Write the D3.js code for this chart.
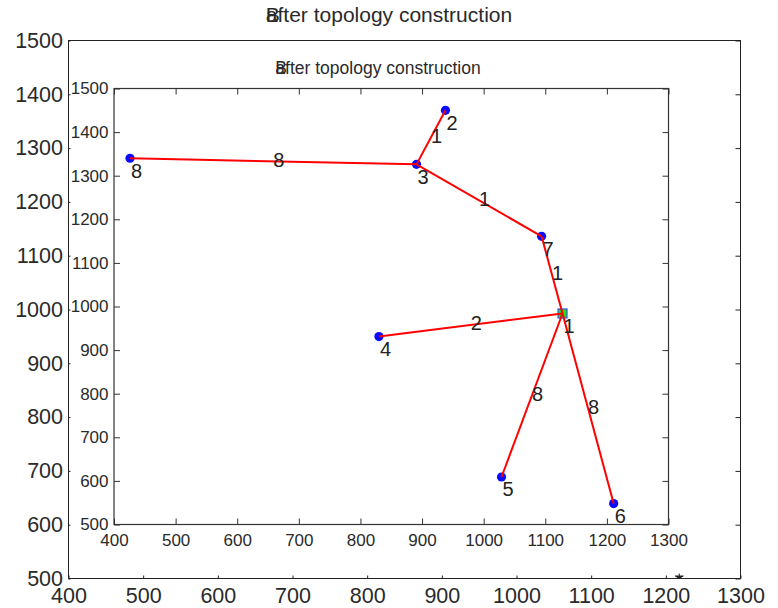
<!DOCTYPE html>
<html>
<head>
<meta charset="utf-8">
<script src="https://cdn.jsdelivr.net/npm/d3@7"></script>
<style>
  html, body { margin: 0; padding: 0; background: #fff; }
  svg { display: block; font-family: "Liberation Sans", Arial, Helvetica, sans-serif; }
</style>
</head>
<body>
<svg id="chart" width="778" height="608"></svg>
<script>
// Network nodes (position in field units) and the links between them
const nodeIds = [1, 2, 3, 4, 5, 6, 7, 8];
const nodeX = [1128, 938, 891, 830, 1029, 1211, 1094, 426];
const nodeY = [984, 1450, 1326, 931, 609, 548, 1161, 1340];
const sinkId = 1;

const edgeFrom = [1, 7, 3, 3, 1, 1, 1];
const edgeTo = [7, 3, 2, 8, 4, 5, 6];
const edgeWeights = [1, 1, 1, 8, 2, 8, 8];

const xTicks = [400, 500, 600, 700, 800, 900, 1000, 1100, 1200, 1300];
const yTicks = [500, 600, 700, 800, 900, 1000, 1100, 1200, 1300, 1400, 1500];
const titleText = "after topology construction";
const titlePrefix = "B";
const strayMark = { x: 1218, y: 500 };

const svg = d3.select("#chart");
const plain = d3.format("d");

// Outer (background) axes
const ox = d3.scaleLinear().domain([400, 1300]).range([68.5, 740.5]);
const oy = d3.scaleLinear().domain([500, 1500]).range([578.5, 40.5]);
// Inner (plot) axes
const ix = d3.scaleLinear().domain([400, 1300]).range([114, 668.5]);
const iy = d3.scaleLinear().domain([500, 1500]).range([524.5, 88.5]);

function drawTitle(cx, cy, size) {
  const g = svg.append("g").attr("fill", "#2a2a2a").style("font-size", size + "px");
  const t = g.append("text").attr("y", cy).attr("dominant-baseline", "middle").text(titleText);
  const w = t.node().getComputedTextLength();
  const x0 = cx - w / 2;
  t.attr("x", x0);
  g.append("text").attr("x", x0).attr("y", cy).attr("dominant-baseline", "middle").text(titlePrefix);
}

function drawFrame(xs, ys, opts) {
  const g = svg.append("g");
  const [x0, x1] = xs.range();
  const [y0, y1] = ys.range();
  g.append("rect")
    .attr("x", x0).attr("y", y1)
    .attr("width", x1 - x0).attr("height", y0 - y1)
    .attr("fill", "none").attr("stroke", opts.stroke).attr("stroke-width", opts.width);

  // Ticks point inward, so the padding alone sets the label gap
  const bottom = d3.axisBottom(xs).tickValues(xTicks).tickFormat(plain)
    .tickSizeInner(-opts.tickB).tickSizeOuter(0).tickPadding(opts.padX);
  const left = d3.axisLeft(ys).tickValues(yTicks).tickFormat(plain)
    .tickSizeInner(-opts.tickL).tickSizeOuter(0).tickPadding(opts.padY);
  const gb = g.append("g").attr("transform", `translate(0,${y0})`).call(bottom);
  const gl = g.append("g").attr("transform", `translate(${x0},0)`).call(left);
  [gb, gl].forEach(a => {
    a.attr("font-size", null).attr("font-family", null);
    a.select(".domain").remove();
    a.selectAll(".tick line").attr("stroke", opts.stroke);
    a.selectAll(".tick text").attr("fill", "#2a2a2a").style("font-size", opts.font + "px");
  });
  if (opts.tickR) {
    const gr = g.append("g").attr("transform", `translate(${x1},0)`)
      .call(d3.axisRight(ys).tickValues(yTicks).tickSizeInner(-opts.tickR).tickSizeOuter(0).tickFormat(""));
    gr.select(".domain").remove();
    gr.selectAll(".tick line").attr("stroke", opts.stroke);
  }
  if (opts.tickT) {
    const gt = g.append("g").attr("transform", `translate(0,${y1})`)
      .call(d3.axisTop(xs).tickValues(xTicks).tickSizeInner(-opts.tickT).tickSizeOuter(0).tickFormat(""));
    gt.select(".domain").remove();
    gt.selectAll(".tick line").attr("stroke", opts.stroke);
  }
  return g;
}

// Background figure
drawTitle(389, 16, 21);
drawFrame(ox, oy, { stroke: "#222", width: 1, tickB: 3, tickL: 2, tickR: 5, tickT: 0, padX: 9.5, padY: 5.5, font: 21.5 });
svg.append("path")
  .attr("d", `M${ox(strayMark.x) - 4},${oy(strayMark.y) - 2.5} h8 l-4,2.5 z M${ox(strayMark.x)},${oy(strayMark.y) - 5} v3`)
  .attr("stroke", "#222").attr("stroke-width", 1).attr("fill", "#222");

// Foreground plot
drawTitle(378, 69, 17.5);
drawFrame(ix, iy, { stroke: "#333", width: 1.2, tickB: 6, tickL: 6, tickR: 6, tickT: 6, padX: 9, padY: 5.5, font: 17 });

const nodes = nodeIds.map((id, i) => ({ id, x: nodeX[i], y: nodeY[i] }));
const byId = new Map(nodes.map(n => [n.id, n]));
const edges = edgeFrom.map((f, i) => ({ a: byId.get(f), b: byId.get(edgeTo[i]), w: edgeWeights[i] }));

const gNodes = svg.append("g");
gNodes.selectAll("circle")
  .data(nodes.filter(n => n.id !== sinkId))
  .join("circle")
  .attr("cx", d => ix(d.x)).attr("cy", d => iy(d.y)).attr("r", 4.6)
  .attr("fill", "#0a0aff");
const sink = byId.get(sinkId);
gNodes.append("rect")
  .attr("x", ix(sink.x) - 4.5).attr("y", iy(sink.y) - 4.5)
  .attr("width", 9).attr("height", 9)
  .attr("fill", "#22e000").attr("stroke", "#3355ff").attr("stroke-width", 1.2);

svg.append("g").selectAll("line")
  .data(edges)
  .join("line")
  .attr("x1", d => ix(d.a.x)).attr("y1", d => iy(d.a.y))
  .attr("x2", d => ix(d.b.x)).attr("y2", d => iy(d.b.y))
  .attr("stroke", "#ff0000").attr("stroke-width", 2);

// Link weights at each link's midpoint
svg.append("g").selectAll("text")
  .data(edges)
  .join("text")
  .attr("x", d => (ix(d.a.x) + ix(d.b.x)) / 2)
  .attr("y", d => (iy(d.a.y) + iy(d.b.y)) / 2)
  .attr("dominant-baseline", "middle")
  .attr("fill", "#222").style("font-size", "20px")
  .text(d => d.w);

// Node numbers just below each node
svg.append("g").selectAll("text")
  .data(nodes)
  .join("text")
  .attr("x", d => ix(d.x) + 1)
  .attr("y", d => iy(d.y) + 14)
  .attr("dominant-baseline", "middle")
  .attr("fill", "#222").style("font-size", "20px")
  .text(d => d.id);
</script>
</body>
</html>
